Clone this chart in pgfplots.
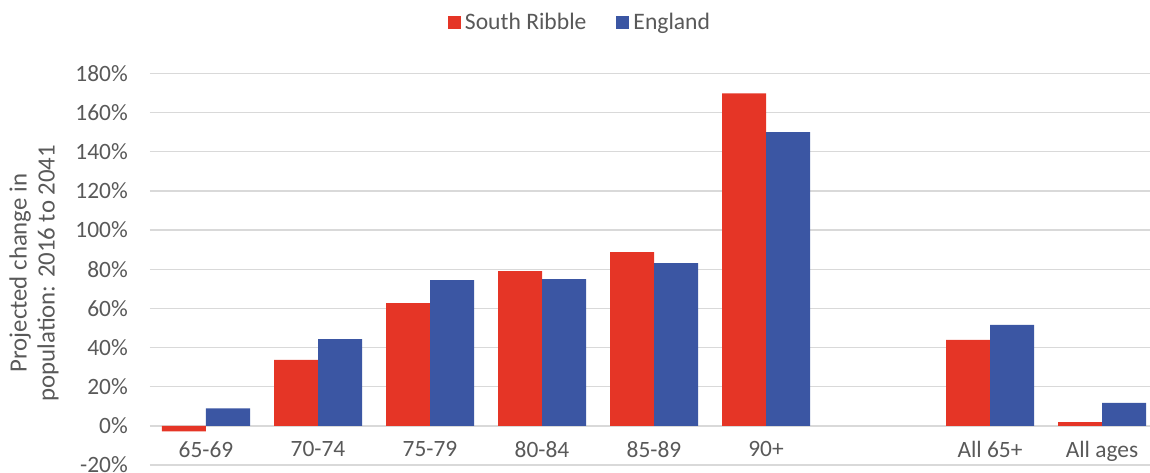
\documentclass[border=0pt]{standalone}
\usepackage{pgfplots}
\pgfplotsset{compat=1.18}
\usepackage{fontspec}
\setmainfont{Carlito}
\definecolor{srred}{HTML}{E53526}
\definecolor{engblue}{HTML}{3B56A3}
\definecolor{txt}{HTML}{595959}
\definecolor{gridc}{HTML}{D9D9D9}
\newcommand\cf{\fontsize{11.7}{14}\selectfont}
\newcommand\lf{\fontsize{11.8}{14}\selectfont}
\newcommand\yf{\fontsize{12.4}{14}\selectfont}
\begin{document}
\begin{tikzpicture}
\useasboundingbox (-75pt,-3.5pt) rectangle (500pt,232.5pt);
\begin{axis}[
  at={(0,0)}, anchor=south west,
  scale only axis, width=500pt, height=195.75pt,
  ybar=0pt, bar width=22pt,
  xmin=-0.5, xmax=8.4286, ymin=-20, ymax=180,
  xtick={0,1,2,3,4,5,7,8},
  xticklabels={65-69,70-74,75-79,80-84,85-89,90+,All 65+,All ages},
  ytick={-20,0,...,180},
  yticklabels={-20\%,0\%,20\%,40\%,60\%,80\%,100\%,120\%,140\%,160\%,180\%},
  ymajorgrids, grid style={draw=gridc, line width=0.65pt},
  axis line style={draw=none}, major tick length=0pt,
  tick label style={font=\cf, text=txt},
  xticklabel style={anchor=north, yshift=15.4pt},
  yticklabel style={anchor=east, xshift=-7.6pt},
  ylabel={Projected change in\\population: 2016 to 2041},
  ylabel style={at={(axis description cs:-0.116,0.49)}, anchor=center, rotate=0, font=\yf, text=txt, align=center},
  legend style={at={(axis description cs:0.431,1.13)}, anchor=center, draw=none, legend columns=2, font=\lf, text=txt,
    /tikz/every even column/.append style={column sep=13pt}},
  legend image code/.code={\fill[#1] (0pt,-3.25pt) rectangle (6.5pt,3.25pt);},
]
\addplot[fill=srred, draw=none] coordinates {(0,-2.8) (1,33.7) (2,62.7) (3,79.1) (4,88.7) (5,169.9) (7,43.9) (8,1.9)};
\addplot[fill=engblue, draw=none] coordinates {(0,8.9) (1,44.3) (2,74.5) (3,74.9) (4,83.1) (5,150.0) (7,51.6) (8,11.8)};
\legend{South Ribble, England}
\end{axis}
\end{tikzpicture}
\end{document}
